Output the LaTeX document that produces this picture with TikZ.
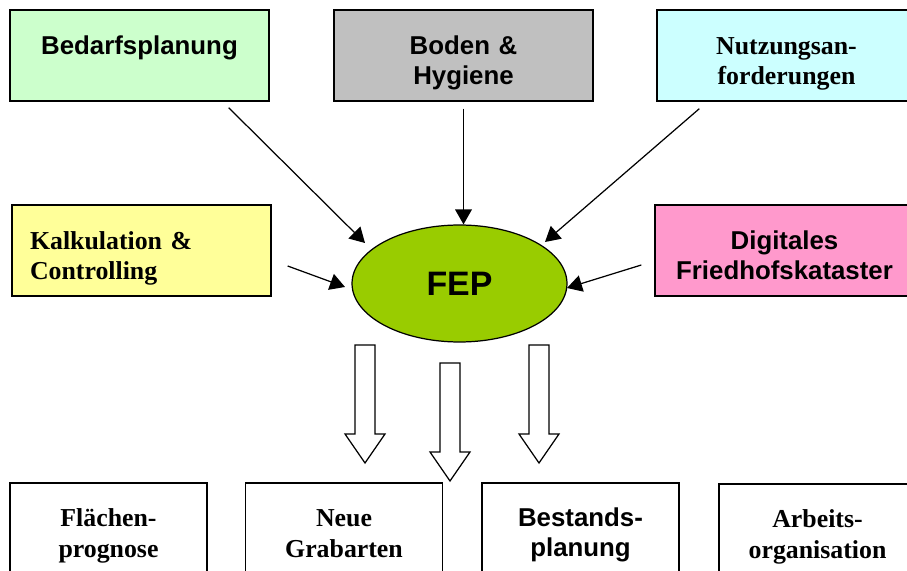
\documentclass[tikz,border=0pt]{standalone}
\usepackage{fontspec}
\setmainfont{Liberation Serif}
\newfontfamily\arialfont{Liberation Sans}
\usetikzlibrary{arrows.meta,shapes.geometric}

\definecolor{bedarfgreen}{HTML}{CCFFCC}
\definecolor{bodengray}{HTML}{C0C0C0}
\definecolor{nutzcyan}{HTML}{CCFFFF}
\definecolor{kalkyellow}{HTML}{FFFF99}
\definecolor{digipink}{HTML}{FF99CC}
\definecolor{fepgreen}{HTML}{99CC00}

\begin{document}
\begin{tikzpicture}[x=0.02cm, y=-0.02cm, line width=0.7pt, >={Triangle[length=8.5pt,width=9.5pt]}]

\useasboundingbox (0,0) rectangle (907,571);

\tikzstyle{box} = [
    rectangle, draw=black, line width=0.8pt, inner xsep=0.2cm, inner ysep=0pt, text width=4.78cm,
    text height=0.9cm, text depth=0.92cm, align=center, font=\fontsize{14.7}{17}\selectfont\bfseries]
\tikzstyle{lowbox} = [box, text width=3.54cm, text height=0.87cm, text depth=0.95cm,
    font=\fontsize{14.7}{17.8}\selectfont\bfseries]
\tikzstyle{sans} = [font=\fontsize{14.7}{17}\selectfont\bfseries\arialfont]


\node[box, fill=bedarfgreen, sans] at (139.5,55.5) (bedarf) {Bedarfsplanung};

\node[box, fill=bodengray, sans] at (463.5,55.5) (boden) {Boden \&\\Hygiene};

\node[box, fill=nutzcyan] at (786.5,55.5) (nutzung) {Nutzungsan-\\forderungen};

\node[box, fill=kalkyellow, align=left, inner xsep=0.36cm, text width=4.46cm] at (141.5,250.5) (kalk) {Kalkulation \&\\Controlling};

\node[box, fill=digipink, sans] at (784.5,250.5) (digital) {Digitales\\Friedhofskataster};

\node[ellipse, draw, fill=fepgreen, minimum width=4.3cm, minimum height=2.34cm, inner sep=0pt,
    font=\fontsize{19.3}{22}\selectfont\bfseries\arialfont] at (459.5,283.5) (fep) {FEP};


\node[lowbox] at (108.5,528.5) (flaechen) {Flächen-\\prognose};

\node[lowbox] at (344,528.5) (neue) {Neue\\Grabarten};

\node[lowbox, sans] at (580.5,528.5) (bestand) {Bestands-\\planung};

\node[lowbox] at (817.5,529.5) (arbeit) {Arbeits-\\organisation};


\path[->]
  ([shift={(-41,6)}]bedarf.south east) edge ([shift={(-94.5,-40.5)}]fep.center)
  ([shift={(0,7)}]boden.south) edge (boden.south |- fep.north)
  ([shift={(43,7)}]nutzung.south west) edge ([shift={(85.5,-41.5)}]fep.center)
  ([shift={(16,15.5)}]kalk.east) edge ([shift={(-114.5,3.5)}]fep.center)
  ([shift={(-13,14.5)}]digital.west) edge ([shift={(107.5,4.5)}]fep.center)
;

% block arrows below FEP
\foreach \x/\t in {365/345, 450/363, 539/345}
  \draw[fill=white] (\x-10,\t) -- ++(20,0) -- ++(0,89) -- ++(10,0) -- (\x,\t+118)
    -- ++(-20,-29) -- ++(10,0) -- cycle;


\end{tikzpicture}
\end{document}
